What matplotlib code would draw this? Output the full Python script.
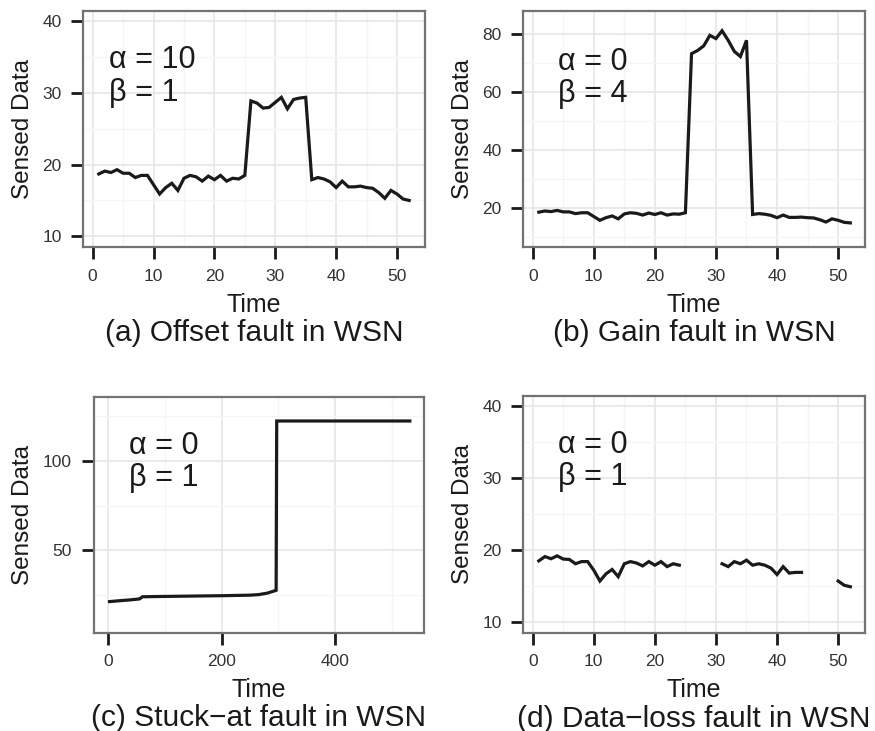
import numpy as np
import matplotlib
matplotlib.use('Agg')
import matplotlib.pyplot as plt

plt.rcParams['font.family'] = ['Liberation Sans', 'DejaVu Sans']

# sensor readings, one per time step
time = np.arange(1, 53)

offset_data = [18.7, 19.1, 18.9, 19.3, 18.8, 18.8, 18.2, 18.5, 18.5, 17.2,
               15.9, 16.8, 17.4, 16.4, 18.1, 18.5, 18.3, 17.7, 18.4, 17.9,
               18.5, 17.7, 18.1, 18.0, 18.5, 28.9, 28.6, 27.9, 28.0, 28.7,
               29.4, 27.8, 29.1, 29.3, 29.4, 17.9, 18.2, 18.0, 17.6, 16.8,
               17.7, 16.9, 16.9, 17.0, 16.8, 16.7, 16.1, 15.3, 16.4, 15.9,
               15.2, 15.0]

gain_data = [18.7, 19.1, 18.9, 19.3, 18.8, 18.8, 18.2, 18.5, 18.5, 17.2,
             15.9, 16.8, 17.4, 16.4, 18.1, 18.5, 18.3, 17.7, 18.4, 17.9,
             18.5, 17.7, 18.1, 18.0, 18.5, 73.3, 74.4, 76.0, 79.6, 78.5,
             81.2, 77.9, 74.1, 72.3, 77.9, 17.9, 18.2, 18.0, 17.6, 16.8,
             17.7, 16.9, 16.9, 17.0, 16.8, 16.7, 16.1, 15.3, 16.4, 15.9,
             15.2, 15.0]

nan = np.nan
loss_data = [18.5, 19.1, 18.8, 19.2, 18.75, 18.7, 18.1, 18.4, 18.4, 17.2,
             15.7, 16.7, 17.3, 16.3, 18.1, 18.4, 18.2, 17.8, 18.4, 17.9,
             18.4, 17.7, 18.1, 17.9, nan, nan, nan, nan, nan, nan,
             18.1, 17.7, 18.4, 18.1, 18.6, 17.9, 18.1, 17.9, 17.5, 16.6,
             17.7, 16.8, 16.9, 16.9, nan, nan, nan, nan, nan, 15.7,
             15.1, 14.9]

stuck_time = [2, 20, 40, 55, 60, 100, 150, 200, 250, 265, 280, 290, 296, 297,
              350, 400, 450, 500, 532]
stuck_data = [21.3, 21.8, 22.3, 22.8, 24.0, 24.2, 24.4, 24.6, 24.9, 25.2,
              26.0, 27.0, 27.6, 122.4, 122.4, 122.4, 122.4, 122.4, 122.4]

captions = ['(a) Offset fault in WSN', '(b) Gain fault in WSN',
            '(c) Stuck\u2212at fault in WSN', '(d) Data\u2212loss fault in WSN']
params = [('10', '1'), ('0', '4'), ('0', '1'), ('0', '1')]

fig = plt.figure(figsize=(8.75, 7.31), dpi=100)

W, H = 875.0, 731.0
def box(l, t, r, b):
    return [l / W, 1 - b / H, (r - l) / W, (b - t) / H]

axes = [fig.add_axes(box(83.3, 10.7, 425, 247)),
        fig.add_axes(box(523.3, 10.7, 865, 247)),
        fig.add_axes(box(93.7, 396.7, 424, 632.5)),
        fig.add_axes(box(523.3, 395.7, 865, 632.7))]

line_kw = dict(color='#1a1a1a', lw=2.3, solid_joinstyle='miter')
axes[0].plot(time, offset_data, **line_kw)
axes[1].plot(time, gain_data, **line_kw)
axes[2].plot(stuck_time, stuck_data, **line_kw)
axes[3].plot(time, loss_data, **line_kw)

# limits, breaks, minor breaks
setup = [
    ((-1.54, 54.6), (8.5, 41.5), [0, 10, 20, 30, 40, 50], [10, 20, 30, 40],
     [5, 15, 25, 35, 45], [15, 25, 35]),
    ((-1.54, 54.4), (6.7, 88.1), [0, 10, 20, 30, 40, 50], [20, 40, 60, 80],
     [5, 15, 25, 35, 45], [10, 30, 50, 70]),
    ((-26, 557), (4, 136), [0, 200, 400], [50, 100],
     [100, 300, 500], [25, 75, 125]),
    ((-1.54, 54.4), (8.5, 41.5), [0, 10, 20, 30, 40, 50], [10, 20, 30, 40],
     [5, 15, 25, 35, 45], [15, 25, 35]),
]

# text positions in data units: (x, alpha baseline, beta baseline)
label_pos = [(2.7, 33.5, 28.9), (4.2, 67.7, 56.8), (37, 103.7, 85.8), (4.2, 33.5, 29.0)]
ylab_off = [60.6, 60.6, 71.0, 60.6]

for i, ax in enumerate(axes):
    xl, yl, xt, yt, xm, ym = setup[i]
    ax.set_xlim(xl)
    ax.set_ylim(yl)
    ax.set_xticks(xt)
    ax.set_yticks(yt)
    ax.set_xticks(xm, minor=True)
    ax.set_yticks(ym, minor=True)
    ax.set_axisbelow(True)
    ax.grid(which='major', color='#e6e6e6', lw=1.2)
    ax.grid(which='minor', color='#f5f5f5', lw=1.0)
    ax.tick_params(which='major', length=8.6, width=2.0, color='#1a1a1a',
                   labelsize=12.5, labelcolor='#333333', pad=7.0)
    ax.tick_params(which='minor', length=0)
    for s in ax.spines.values():
        s.set_color('#737373')
        s.set_linewidth(1.6)

    a, b = params[i]
    x0, ya, yb = label_pos[i]
    ax.text(x0, ya, '\u03b1 = ' + a, fontsize=22, color='#1a1a1a', va='baseline')
    ax.text(x0, yb, '\u03b2 = ' + b, fontsize=22, color='#1a1a1a', va='baseline')

    ax.annotate('Time', xy=(0.5, 0), xycoords='axes fraction',
                xytext=(0, -64.7), textcoords='offset pixels',
                ha='center', va='baseline', fontsize=18, color='#1a1a1a')
    ax.annotate(captions[i], xy=(0.5, 0), xycoords='axes fraction',
                xytext=(0, -94), textcoords='offset pixels',
                ha='center', va='baseline', fontsize=21.5, color='#1a1a1a')
    ax.annotate('Sensed Data', xy=(0, 0.5), xycoords='axes fraction',
                xytext=(-ylab_off[i], 0), textcoords='offset pixels',
                ha='center', va='center', rotation=90, fontsize=17.5,
                color='#1a1a1a')

fig.savefig('out.png', dpi=100)
